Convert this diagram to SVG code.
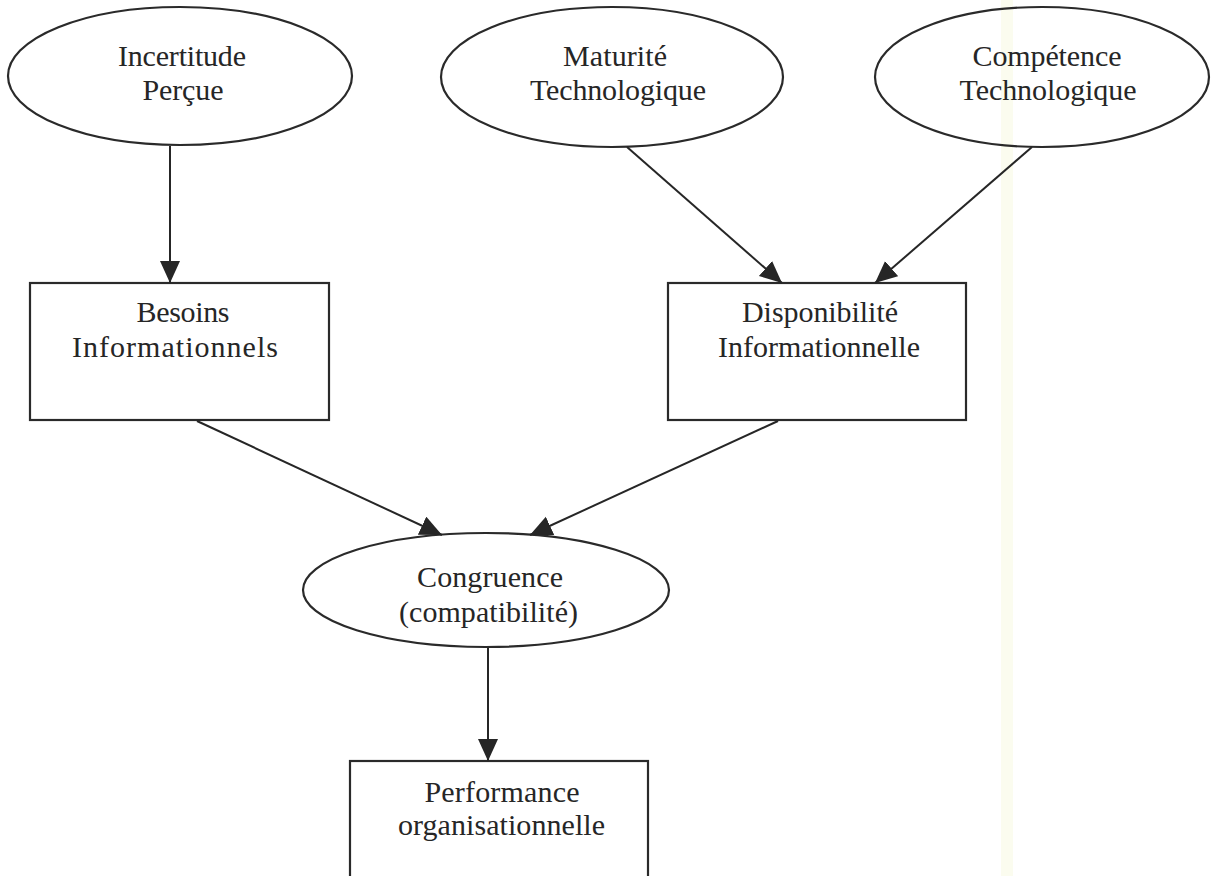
<svg xmlns="http://www.w3.org/2000/svg" width="1211" height="876" viewBox="0 0 1211 876">
  <style>
    .shape { fill: none; stroke: #2a2a2a; stroke-width: 2.2; }
    .label { font-family: "Liberation Serif", "Times New Roman", serif; font-size: 30px; fill: #262626; text-anchor: middle; }
    .edge { stroke: #262626; stroke-width: 2; fill: none; marker-end: url(#head); }
  </style>
  <defs>
    <marker id="head" markerUnits="userSpaceOnUse" markerWidth="24" markerHeight="22" refX="22" refY="10" orient="auto">
      <path d="M0,0 L22,10 L0,20 Z" fill="#262626"/>
    </marker>
  </defs>

  <rect width="1211" height="876" fill="#ffffff"/>
  <!-- faint paper tint strip -->
  <rect x="1001" y="0" width="12" height="876" fill="#fbfcef"/>

  <g id="incertitude">
    <ellipse class="shape" cx="180" cy="76" rx="172" ry="69"/>
    <text class="label" x="182" y="66" textLength="128">Incertitude</text>
    <text class="label" x="183" y="100" textLength="81">Perçue</text>
  </g>

  <g id="maturite">
    <ellipse class="shape" cx="612" cy="77" rx="171" ry="70"/>
    <text class="label" x="615" y="66" textLength="104">Maturité</text>
    <text class="label" x="618" y="100" textLength="176">Technologique</text>
  </g>

  <g id="competence">
    <ellipse class="shape" cx="1042" cy="77" rx="167" ry="70"/>
    <text class="label" x="1047" y="66" textLength="149">Compétence</text>
    <text class="label" x="1048" y="100" textLength="177">Technologique</text>
  </g>

  <g id="besoins">
    <rect class="shape" x="30" y="283" width="299" height="137"/>
    <text class="label" x="183" y="322" textLength="93">Besoins</text>
    <text class="label" x="175" y="357" textLength="206">Informationnels</text>
  </g>

  <g id="disponibilite">
    <rect class="shape" x="668" y="283" width="298" height="137"/>
    <text class="label" x="820" y="322" textLength="156">Disponibilité</text>
    <text class="label" x="819" y="357" textLength="202">Informationnelle</text>
  </g>

  <g id="congruence">
    <ellipse class="shape" cx="486" cy="590" rx="183" ry="57"/>
    <text class="label" x="490" y="587" textLength="146">Congruence</text>
    <text class="label" x="488.5" y="622" textLength="179">(compatibilité)</text>
  </g>

  <g id="performance">
    <rect class="shape" x="350" y="761" width="298" height="130"/>
    <text class="label" x="502" y="802" textLength="155">Performance</text>
    <text class="label" x="501.5" y="835" textLength="207">organisationnelle</text>
  </g>

  <g id="connectors">
    <line class="edge" x1="170" y1="146" x2="170" y2="283"/>
    <line class="edge" x1="627" y1="147" x2="782" y2="283"/>
    <line class="edge" x1="1032" y1="147" x2="875" y2="283"/>
    <line class="edge" x1="197" y1="421" x2="442" y2="535"/>
    <line class="edge" x1="778" y1="421" x2="530" y2="535"/>
    <line class="edge" x1="488" y1="648" x2="488" y2="761"/>
  </g>
</svg>
